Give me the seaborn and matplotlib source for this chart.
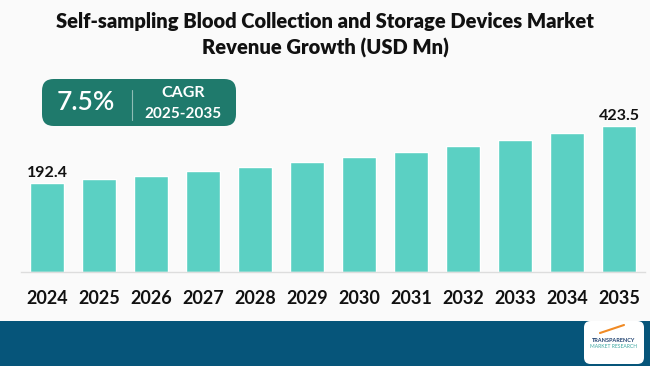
import matplotlib
matplotlib.use("Agg")
import matplotlib.pyplot as plt
from matplotlib.patches import FancyBboxPatch, Rectangle
import seaborn as sns
import pandas as pd

# chart data
years = ["2024", "2025", "2026", "2027", "2028", "2029",
         "2030", "2031", "2032", "2033", "2034", "2035"]
revenue = [192.4, 208.7, 222.5, 239.5, 257.3, 277.0,
           297.5, 319.0, 342.8, 368.0, 395.6, 423.5]
cagr_value = "7.5%"
cagr_period = "2025-2035"
title = "Self-sampling Blood Collection and Storage Devices Market\nRevenue Growth (USD Mn)"

df = pd.DataFrame({"Year": years, "Revenue": revenue})

sns.set_theme(style="white")
plt.rcParams["font.family"] = ["Lato", "DejaVu Sans"]

fig = plt.figure(figsize=(6.5, 3.66), dpi=100)
fig.patch.set_facecolor("#fafafa")

W, H = 650, 366
def fx(px): return px / W
def fy(py): return 1 - py / H

# axes: baseline at y=272px, top at 120px
ax = fig.add_axes([fx(21), fy(272), fx(624), (272 - 120) / H])
ax.set_facecolor("none")
sns.barplot(data=df, x="Year", y="Revenue", color="#5bd0c3", width=0.65,
            saturation=1, ax=ax)

# bars in the reference start below zero (truncated look)
ymin, ymax = -168.5, 447.9
for p in ax.patches:
    h = p.get_height()
    p.set_y(ymin)
    p.set_height(h - ymin)
ax.set_ylim(ymin, ymax)
ax.set_xlim(-0.5, len(years) - 0.5)

for s in ["top", "right", "left"]:
    ax.spines[s].set_visible(False)
ax.spines["bottom"].set_color("#dddddd")
ax.spines["bottom"].set_linewidth(1)
ax.set_yticks([])
ax.set_xlabel("")
ax.set_ylabel("")
ax.tick_params(axis="x", length=0, pad=13)
for lbl in ax.get_xticklabels():
    lbl.set_fontsize(13)
    lbl.set_fontweight("bold")
    lbl.set_color("#111111")

# first and last value labels
for i in [0, len(years) - 1]:
    ax.text(i, revenue[i] + 12, f"{revenue[i]:.1f}", ha="center", va="bottom",
            fontsize=11.5, fontweight="bold", color="#111111")

# title
fig.text(0.5, fy(35), title, ha="center", va="center", fontsize=14.5,
         fontweight="heavy", color="#111111", linespacing=1.45)

# CAGR box
box = FancyBboxPatch((fx(42), fy(126)), fx(194), (126 - 79) / H,
                     boxstyle="round,pad=0,rounding_size=0.018",
                     transform=fig.transFigure, facecolor="#1f7a6c",
                     edgecolor="none", mutation_aspect=W / H)
fig.add_artist(box)
fig.text(fx(86), fy(103), cagr_value, ha="center", va="center",
         fontsize=19, fontweight="semibold", color="white")
fig.add_artist(plt.Line2D([fx(132), fx(132)], [fy(90), fy(120)],
                          transform=fig.transFigure, color="#8fbdb5", lw=0.8))
fig.text(fx(183), fy(93), "CAGR", ha="center", va="center",
         fontsize=11.5, fontweight="bold", color="white")
fig.text(fx(183), fy(114), cagr_period, ha="center", va="center",
         fontsize=11, fontweight="bold", color="white")

# bottom band
fig.add_artist(Rectangle((0, 0), 1, fy(321), transform=fig.transFigure,
                         facecolor="#06557a", edgecolor="none"))

# logo
logo = FancyBboxPatch((fx(584), fy(364)), fx(60), (364 - 321) / H,
                      boxstyle="round,pad=0,rounding_size=0.01",
                      transform=fig.transFigure, facecolor="white",
                      edgecolor="none", mutation_aspect=W / H)
fig.add_artist(logo)
fig.text(fx(614), fy(340), "TRANSPARENCY", ha="center", va="center",
         fontsize=4, fontweight="bold", color="#1d3f6e")
fig.text(fx(614), fy(347), "MARKET RESEARCH", ha="center", va="center",
         fontsize=3.6, color="#3aa6a0")
fig.add_artist(plt.Line2D([fx(600), fx(624)], [fy(333), fy(325)],
                          transform=fig.transFigure, color="#f08a24", lw=1.5))

fig.savefig("out.png", dpi=100, facecolor=fig.get_facecolor())
